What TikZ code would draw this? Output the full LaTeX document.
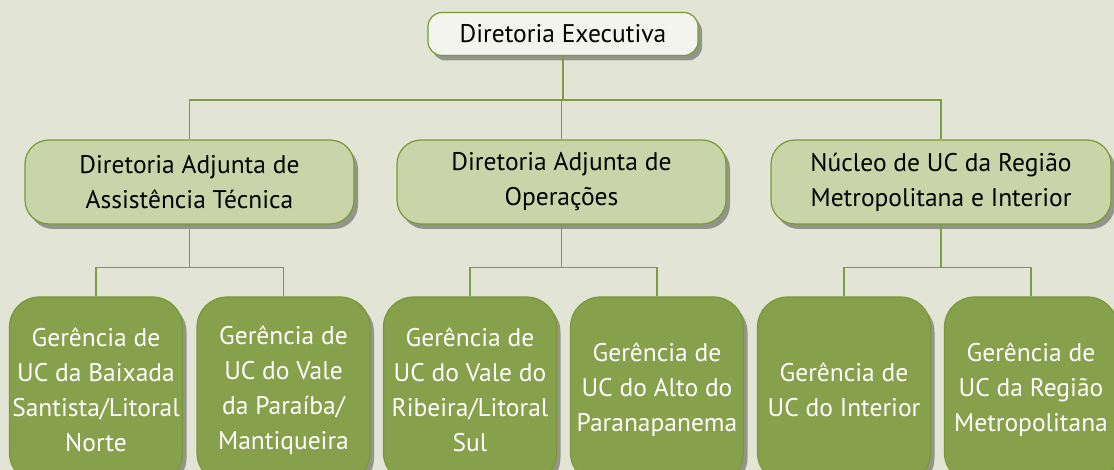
\documentclass[tikz,border=0pt]{standalone}
\usepackage{fontspec}
\setmainfont{PT Sans}
\usetikzlibrary{shadows}
\definecolor{bgcol}{HTML}{E2E5D6}
\definecolor{linecol}{HTML}{7E9C44}
\definecolor{topfill}{HTML}{F3F4EE}
\definecolor{midfill}{HTML}{C9D4A8}
\definecolor{lowfill}{HTML}{87A04B}
\definecolor{edgecol}{HTML}{789A36}

\begin{document}
\begin{tikzpicture}[x=1pt,y=-1pt,
  box/.style={draw=edgecol, line width=1.2pt, align=center, inner sep=0pt,
    font=\fontsize{25.5}{35}\selectfont,
    drop shadow={shadow xshift=4pt, shadow yshift=-5pt, opacity=0.35, fill=black}},
  headbox/.style={box, fill=topfill, rounded corners=14pt, minimum width=270pt, minimum height=43pt},
  adjbox/.style={box, fill=midfill, rounded corners=24pt, minimum height=84pt},
  unitbox/.style={box, fill=lowfill, text=white, rounded corners=30pt,
    minimum width=173pt, minimum height=186pt},
  conn/.style={draw=linecol, line width=1.5pt}]
  % Background
  \fill[bgcol] (0,0) rectangle (1114,470);
  \useasboundingbox (0,0) rectangle (1114,470);
  \clip (0,0) rectangle (1114,470);
  % Boxes
  \node[headbox] (dir) at (563,34) {Diretoria Executiva};
  \node[adjbox, minimum width=329pt] (adj1) at (189.5,182) {Diretoria Adjunta de\\Assistência Técnica};
  \node[adjbox, minimum width=329pt] (adj2) at (561.5,182) {Diretoria Adjunta de\\Operações};
  \node[adjbox, minimum width=340pt] (adj3) at (941,182) {Núcleo de UC da Região\\Metropolitana e Interior};
  \node[unitbox] (g1) at (96,390) {Gerência de\\UC da Baixada\\Santista/Litoral\\Norte};
  \node[unitbox] (g2) at (283.5,390) {Gerência de\\UC do Vale\\da Paraíba/\\Mantiqueira};
  \node[unitbox] (g3) at (470,390) {Gerência de\\UC do Vale do\\Ribeira/Litoral\\Sul};
  \node[unitbox] (g4) at (657,390) {Gerência de\\UC do Alto do\\Paranapanema};
  \node[unitbox] (g5) at (844,390) {Gerência de\\UC do Interior};
  \node[unitbox] (g6) at (1031,390) {Gerência de\\UC da Região\\Metropolitana};
  % Lines
  \draw[conn] (dir.south) -- ++(0,44) coordinate (bus0);
  \draw[conn] (adj1.north) |- (bus0) -| (adj3.north);
  \draw[conn] (adj2.north) -- (adj2.north |- bus0);
  \foreach \a/\l/\r in {adj1/g1/g2, adj2/g3/g4, adj3/g5/g6} {
    \draw[conn] (\a.south) -- ++(0,43) coordinate (bus);
    \draw[conn] (\l.north) |- (bus) -| (\r.north);
  }
\end{tikzpicture}
\end{document}
